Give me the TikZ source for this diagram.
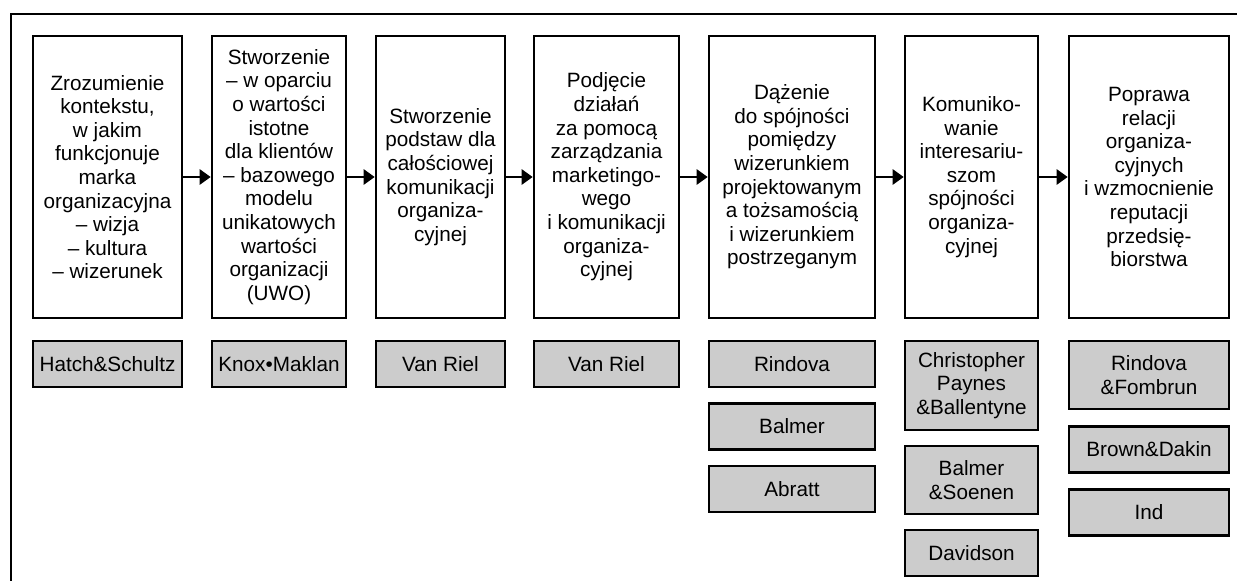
\documentclass[tikz,border=0pt]{standalone}
\usepackage{fontspec}
\setmainfont{Liberation Sans}
\usetikzlibrary{arrows.meta}
\definecolor{refgray}{HTML}{CCCCCC}
\tikzset{
  txt/.style={font=\fontsize{20.7}{23.6}\selectfont, align=center, inner sep=0pt},
  mainbox/.style={txt, draw, line width=2.6pt, minimum width=#1, minimum height=282pt},
  refbox/.style={txt, draw, fill=refgray, line width=2.5pt, minimum width=#1},
  h/.style={minimum height=#1},
  flow/.style={line width=2.7pt, -{Triangle[length=11pt,width=15pt]}},
}
\begin{document}
\begin{tikzpicture}[x=1pt,y=-1pt]
  \useasboundingbox (0,0) rectangle (1237,581);
  \clip (0,0) rectangle (1237,581);
  % outer frame (continues past the right and bottom edges)
  \draw[line width=2.6pt] (11,14) rectangle (1260,600);

  % process steps
  \node[mainbox=149pt] (m1) at (107.5,177) {Zrozumienie\\kontekstu,\\w jakim\\funkcjonuje\\marka\\organizacyjna\\– wizja\\– kultura\\– wizerunek};
  \node[mainbox=134pt] (m2) at (279,177) {Stworzenie\\– w oparciu\\o wartości\\istotne\\dla klientów\\– bazowego\\modelu\\unikatowych\\wartości\\organizacji\\(UWO)};
  \node[mainbox=129pt] (m3) at (440.5,177) {Stworzenie\\podstaw dla\\całościowej\\komunikacji\\organiza-\\cyjnej};
  \node[mainbox=145pt] (m4) at (606.5,177) {Podjęcie\\działań\\za pomocą\\zarządzania\\marketingo-\\wego\\i komunikacji\\organiza-\\cyjnej};
  \node[mainbox=166pt] (m5) at (792,177) {Dążenie\\do spójności\\pomiędzy\\wizerunkiem\\projektowanym\\a tożsamością\\i wizerunkiem\\postrzeganym};
  \node[mainbox=133pt] (m6) at (971.5,177) {Komuniko-\\wanie\\interesariu-\\szom\\spójności\\organiza-\\cyjnej};
  \node[mainbox=160pt] (m7) at (1149,177) {Poprawa\\relacji\\organiza-\\cyjnych\\i wzmocnienie\\reputacji\\przedsię-\\biorstwa};

  \draw[flow] (m1) -- (m2);
  \draw[flow] (m2) -- (m3);
  \draw[flow] (m3) -- (m4);
  \draw[flow] (m4) -- (m5);
  \draw[flow] (m5) -- (m6);
  \draw[flow] (m6) -- (m7);

  % authors
  \node[refbox=149pt, h=46pt] (r1) at (107.5,364) {Hatch\&Schultz};
  \node[refbox=134pt, h=46pt] (r2) at (279,364) {Knox•Maklan};
  \node[refbox=129pt, h=46pt] (r3) at (440.5,364) {Van Riel};
  \node[refbox=145pt, h=46pt] (r4) at (606.5,364) {Van Riel};

  \node[refbox=166pt, h=46pt] (r5a) at (792,364) {Rindova};
  \node[refbox=166pt, h=46pt] (r5b) at (792,426.5) {Balmer};
  \node[refbox=166pt, h=46pt] (r5c) at (792,489) {Abratt};

  \node[refbox=133pt, h=89pt] (r6a) at (971.5,385.5) {Christopher\\Paynes\\\&Ballentyne};
  \node[refbox=133pt, h=68pt] (r6b) at (971.5,480) {Balmer\\\&Soenen};
  \node[refbox=133pt, h=46pt] (r6c) at (971.5,553) {Davidson};

  \node[refbox=160pt, h=68pt] (r7a) at (1149,375) {Rindova\\\&Fombrun};
  \node[refbox=160pt, h=46pt] (r7b) at (1149,449.5) {Brown\&Dakin};
  \node[refbox=160pt, h=46pt] (r7c) at (1149,512.5) {Ind};
\end{tikzpicture}
\end{document}
